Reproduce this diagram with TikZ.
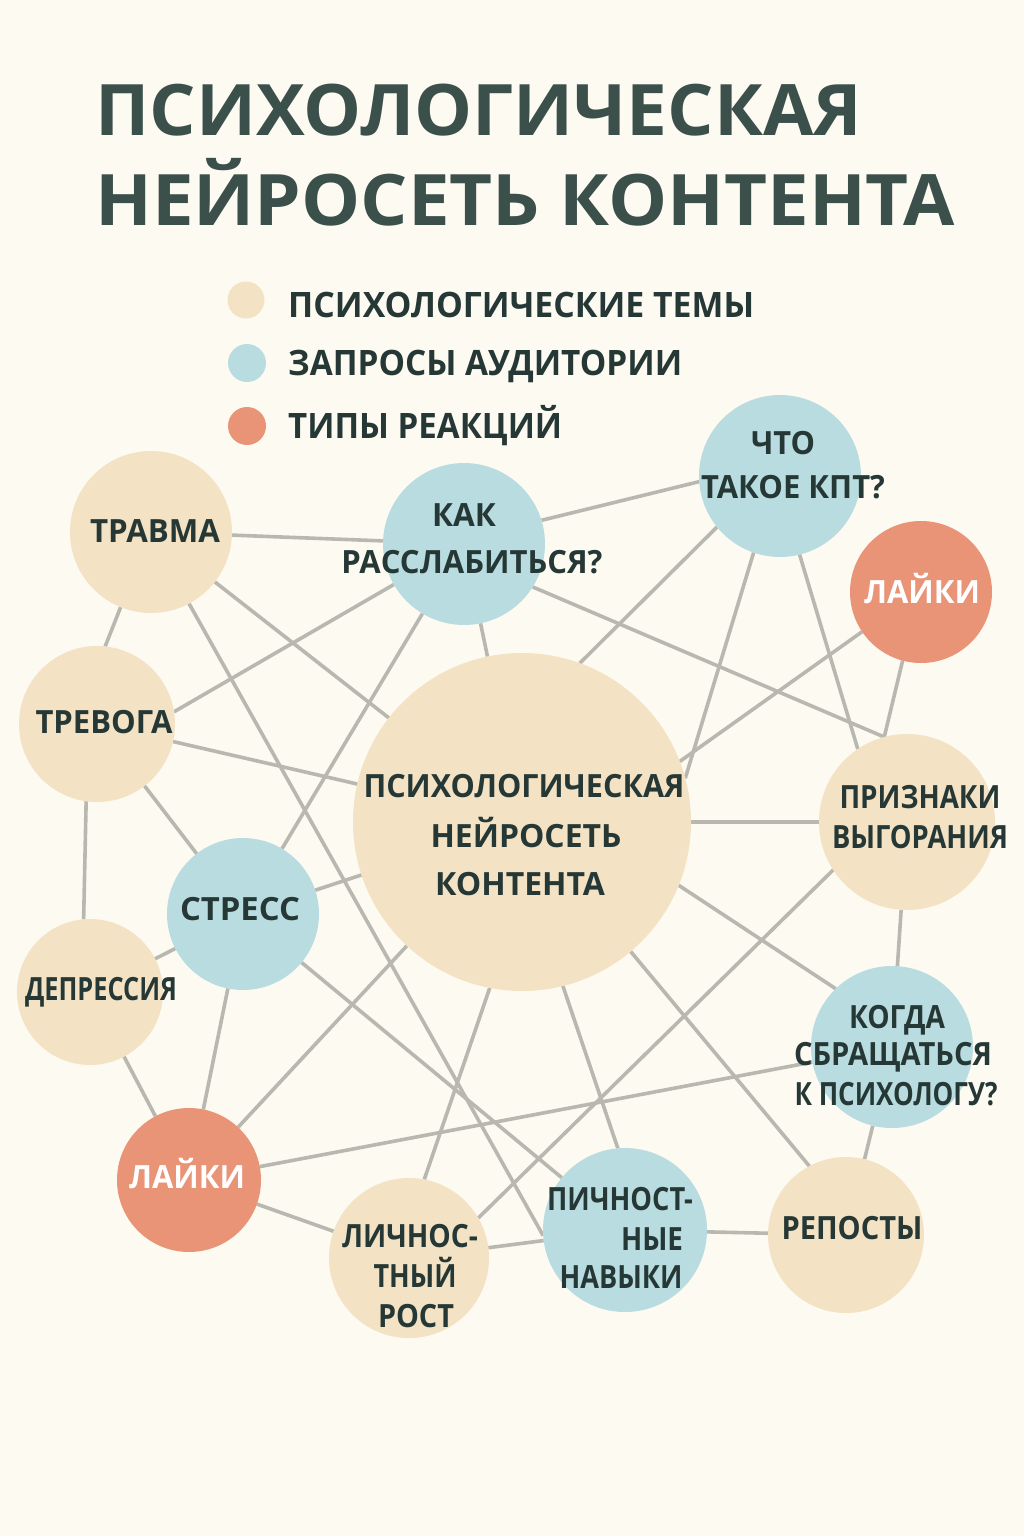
\documentclass[tikz,border=0pt]{standalone}
\usepackage{fontspec}
\usepackage{graphicx}
\setmainfont{Open Sans}
\definecolor{cbg}{HTML}{FDFAF2}
\definecolor{cbeige}{HTML}{F3E2C4}
\definecolor{cblue}{HTML}{B9DCE0}
\definecolor{cred}{HTML}{E99377}
\definecolor{cedge}{HTML}{B8B8B0}
\definecolor{ctext}{HTML}{263836}
\definecolor{ctitle}{HTML}{3B4F4B}
\newcommand{\fitw}[2]{\resizebox{#1pt}{\height}{#2}}
\pgfdeclarelayer{background}
\pgfsetlayers{background,main}
\begin{document}
\begin{tikzpicture}[x=1pt,y=-1pt,
  topic/.style={circle,fill=cbeige,inner sep=0pt,outer sep=0pt,minimum size=#1},
  query/.style={circle,fill=cblue,inner sep=0pt,outer sep=0pt,minimum size=#1},
  reaction/.style={circle,fill=cred,inner sep=0pt,outer sep=0pt,minimum size=#1},
  lbl/.style={font=\bfseries\fontsize{32}{32}\selectfont,text=ctext,anchor=base,inner sep=0pt},
  wlbl/.style={lbl,text=white},
  legtext/.style={font=\bfseries\fontsize{35}{35}\selectfont,text=ctext,anchor=base west,inner sep=0pt},
  titletext/.style={font=\bfseries\fontsize{71}{71}\selectfont,text=ctitle,anchor=base west,inner sep=0pt},
  edge/.style={draw=cedge,line width=3.6pt}]
\begin{pgfonlayer}{background}
\fill[cbg] (0,0) rectangle (1024,1536);
\end{pgfonlayer}
\useasboundingbox (0,0) rectangle (1024,1536);

% title
\node[titletext] (title1) at (95,136) {\fitw{767}{ПСИХОЛОГИЧЕСКАЯ}};
\node[titletext] (title2) at (95,225) {\fitw{860}{НЕЙРОСЕТЬ КОНТЕНТА}};

% legend
\node[topic=37] (lg1) at (246,300) {};
\node[query=38] (lg2) at (247,363) {};
\node[reaction=38] (lg3) at (247,426) {};
\node[legtext] (lt1) at (288,317) {\fitw{466}{ПСИХОЛОГИЧЕСКИЕ ТЕМЫ}};
\node[legtext] (lt2) at (288,375) {\fitw{394}{ЗАПРОСЫ АУДИТОРИИ}};
\node[legtext] (lt3) at (288,438) {\fitw{274}{ТИПЫ РЕАКЦИЙ}};

% circles
\node[topic=162] (trauma) at (151,532) {};
\node[query=162] (kak) at (464,544) {};
\node[query=162] (chto) at (780,476) {};
\node[reaction=142] (like1) at (921,592) {};
\node[topic=156] (trevoga) at (97,724) {};
\node[topic=338] (main) at (522,822) {};
\node[topic=176] (priznaki) at (907,822) {};
\node[query=152] (stress) at (243,914) {};
\node[topic=146] (depr) at (90,992) {};
\node[reaction=144] (like2) at (189,1180) {};
\node[topic=160] (rost) at (409,1258) {};
\node[query=164] (navyki) at (625,1230) {};
\node[topic=156] (repost) at (846,1235) {};
\node[query=162] (kogda) at (892,1047) {};

% labels
\node[lbl] (trauma-t) at (155,542) {\fitw{130}{ТРАВМА}};
\node[lbl] (kak-t1) at (464,526) {\fitw{64}{КАК}};
\node[lbl] (kak-t2) at (472,573) {\fitw{261}{РАССЛАБИТЬСЯ?}};
\node[lbl] (chto-t1) at (783,454) {\fitw{64}{ЧТО}};
\node[lbl] (chto-t2) at (793,498) {\fitw{184}{ТАКОЕ КПТ?}};
\node[wlbl] (like1-t) at (922,603) {\fitw{116}{ЛАЙКИ}};
\node[lbl] (trevoga-t) at (104,733) {\fitw{137}{ТРЕВОГА}};
\node[lbl] (main-t1) at (524,797) {\fitw{321}{ПСИХОЛОГИЧЕСКАЯ}};
\node[lbl] (main-t2) at (526,847) {\fitw{191}{НЕЙРОСЕТЬ}};
\node[lbl] (main-t3) at (520,895) {\fitw{170}{КОНТЕНТА}};
\node[lbl] (priznaki-t1) at (920,808) {\fitw{161}{ПРИЗНАКИ}};
\node[lbl] (priznaki-t2) at (920,848) {\fitw{176}{ВЫГОРАНИЯ}};
\node[lbl] (stress-t) at (240,920) {\fitw{120}{СТРЕСС}};
\node[lbl] (depr-t) at (101,1000) {\fitw{152}{ДЕПРЕССИЯ}};
\node[wlbl] (like2-t) at (187,1188) {\fitw{116}{ЛАЙКИ}};
\node[lbl] (rost-t1) at (410,1247) {\fitw{136}{ЛИЧНОС-}};
\node[lbl] (rost-t2) at (415,1287) {\fitw{83}{ТНЫЙ}};
\node[lbl] (rost-t3) at (416,1327) {\fitw{76}{РОСТ}};
\node[lbl] (navyki-t1) at (620,1210) {\fitw{146}{ПИЧНОСТ-}};
\node[lbl] (navyki-t2) at (652,1250) {\fitw{62}{НЫЕ}};
\node[lbl] (navyki-t3) at (621,1288) {\fitw{123}{НАВЫКИ}};
\node[lbl] (repost-t) at (852,1239) {\fitw{141}{РЕПОСТЫ}};
\node[lbl] (kogda-t1) at (897,1028) {\fitw{96}{КОГДА}};
\node[lbl] (kogda-t2) at (893,1065) {\fitw{198}{СБРАЩАТЬСЯ}};
\node[lbl] (kogda-t3) at (896,1105) {\fitw{203}{К ПСИХОЛОГУ?}};

% connectors
\begin{pgfonlayer}{background}
\draw[edge] (trauma) -- (kak);
\draw[edge] (trauma) -- (main);
\draw[edge] (trauma.-112) -- (trevoga.84);
\draw[edge] (trauma.-62) -- (navyki.184);
\draw[edge] (kak.-150) -- (trevoga.9);
\draw[edge] (kak) -- (stress);
\draw[edge] (kak) -- (main);
\draw[edge] (kak.17) -- (chto.184);
\draw[edge] (kak.-32) -- (priznaki.105);
\draw[edge] (chto.-141) -- (main.70);
\draw[edge] (chto.-109) -- (main.15);
\draw[edge] (chto.-76) -- (priznaki.124);
\draw[edge] (like1.-146) -- (main.21);
\draw[edge] (like1.-105) -- (priznaki.105);
\draw[edge] (trevoga) -- (main);
\draw[edge] (trevoga) -- (stress);
\draw[edge] (trevoga.-98) -- (depr.95);
\draw[edge] (depr) -- (stress);
\draw[edge] (depr) -- (like2);
\draw[edge] (stress) -- (like2);
\draw[edge] (stress) -- (main);
\draw[edge] (stress) -- (navyki);
\draw[edge] (like2) -- (main);
\draw[edge] (like2) -- (kogda);
\draw[edge] (like2) -- (rost);
\draw[edge] (rost.79) -- (main.-101);
\draw[edge] (rost.30) -- (priznaki.213);
\draw[edge] (rost) -- (navyki);
\draw[edge] (main.-76) -- (navyki.95);
\draw[edge] (main.-50) -- (repost.118);
\draw[edge] (main.-22) -- (kogda.134);
\draw[edge] (main) -- (priznaki);
\draw[edge] (priznaki) -- (kogda);
\draw[edge] (kogda) -- (repost);
\draw[edge] (navyki) -- (repost);
\end{pgfonlayer}
\end{tikzpicture}
\end{document}
